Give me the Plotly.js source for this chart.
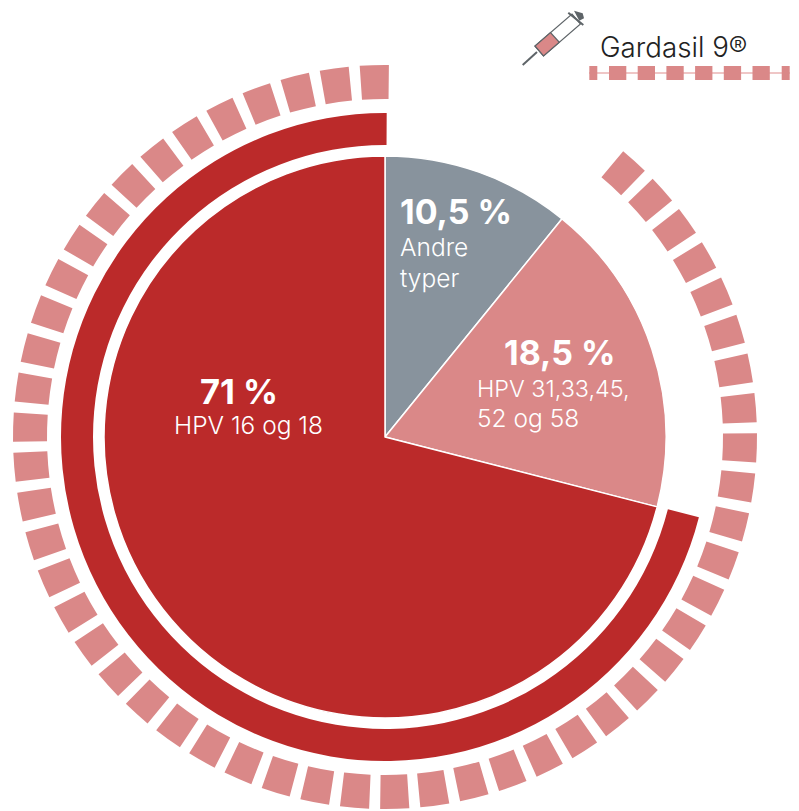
<!DOCTYPE html>
<html>
<head>
<meta charset="utf-8">
<script src="https://cdn.plot.ly/plotly-3.0.1.min.js"></script>
<style>html,body{margin:0;padding:0;background:#fff}#chart{width:799px;height:811px}</style>
</head>
<body>
<div id="chart"></div>
<script>
// Inner pie, shares as drawn, clockwise from 12 o'clock
var categories = ["Andre typer", "HPV 31,33,45, 52 og 58", "HPV 16 og 18"];
var shares = [10.85, 18.15, 71];
var shareColors = ["#88939d", "#da8888", "#bb2a2a"];

// Middle ring: blank part then the HPV 16/18 arc
var ringValues = [28.9, 71.1];

// Outer Gardasil 9 ring, degrees
var dashLead = 39.2;
var dashSizes = [4.5,4.5,4.5,4.5,4.5,4.5,4.5,4.5,4.5,4.5,4.5,4.5,4.5,4.5,4.5,4.5,4.5,4.5,4.5,4.5,4.5,4.5,4.5,4.5,4.5,4.5,
                 4.5,4.5,4.5,4.5,4.5,4.5,4.5,4.5,4.5,4.5,4.5,4.5,4.5,4.5,4.5,4.5,4.5,4.5,4.5,4.5,4.5,4.5,4.5,4.5,4.5,4.5];
var gapSizes  = [1.7,1.7,1.7,1.7,1.7,1.7,1.7,1.7,1.7,1.7,1.7,1.7,1.7,1.7,1.7,1.7,1.7,1.7,1.7,1.7,1.7,1.7,1.7,1.7,1.7,1.7,
                 1.7,1.7,1.7,1.7,1.7,1.7,1.7,1.7,1.7,1.7,1.7,1.7,1.7,1.7,1.7,1.7,1.7,1.7,1.7,1.7,1.7,1.7,1.7,1.7,1.7];

var W = 799, H = 811, CX = 385, CY = 437;
var CLEAR = "rgba(255,255,255,0)";
var PINK = "#da8888";
var DARK = "#5e6468";
var FONT = "Inter, Roboto, sans-serif";

function dom(R) {
  return {
    x: [(CX - R) / W, (CX + R) / W],
    y: [1 - (CY + R) / H, 1 - (CY - R) / H]
  };
}

var dashValues = [dashLead], dashColors = [CLEAR];
dashSizes.forEach(function (d, i) {
  dashValues.push(d); dashColors.push(PINK);
  if (i < gapSizes.length) { dashValues.push(gapSizes[i]); dashColors.push(CLEAR); }
});

var base = {type: "pie", sort: false, direction: "clockwise", textinfo: "none",
            hoverinfo: "skip", showlegend: false};

var traces = [
  Object.assign({}, base, {
    values: dashValues, hole: 338 / 372, rotation: 0.6, domain: dom(372),
    marker: {colors: dashColors, line: {width: 0}}
  }),
  Object.assign({}, base, {
    values: ringValues, hole: 292 / 324, rotation: 0.3, domain: dom(324),
    marker: {colors: [CLEAR, shareColors[2]], line: {width: 0}}
  }),
  Object.assign({}, base, {
    labels: categories, values: shares, rotation: 0, domain: dom(281),
    marker: {colors: shareColors, line: {color: "#ffffff", width: 1.5}}
  }),
  {type: "scatter", x: [null], y: [null], mode: "lines", hoverinfo: "skip", showlegend: false}
];

function note(text, x, y, size, weight, color) {
  return {xref: "x", yref: "y", x: x, y: y, text: text, showarrow: false, xanchor: "left",
          yanchor: "middle", align: "left", borderpad: 0, borderwidth: 0,
          font: {family: FONT, size: size, weight: weight, color: color || "#ffffff"}};
}

var annotations = [
  note("10,5 %", 400, 211, 34, 700),
  note("Andre", 400, 247, 24.5, 300),
  note("typer", 400, 278, 24.5, 300),
  note("18,5 %", 504, 352, 34, 700),
  note("HPV 31,33,45,", 477, 388, 23.4, 300),
  note("52 og 58", 477, 417.5, 24.5, 300),
  note("71 %", 200, 391, 34.5, 700),
  note("HPV 16 og 18", 174, 425, 24.5, 300),
  note("Gardasil 9®", 600, 47, 27.7, 300, "#222222")
];

function ln(x0, y0, x1, y1, color, width, dash) {
  return {type: "line", xref: "x", yref: "y", x0: x0, y0: y0, x1: x1, y1: y1,
          line: {color: color, width: width, dash: dash || "solid"}};
}
function poly(path, fill, lineColor, width) {
  return {type: "path", xref: "x", yref: "y", path: path, fillcolor: fill,
          line: {color: lineColor || fill, width: width || 0}};
}

var shapes = [
  // legend key
  ln(589, 73, 790, 73, "#efc6c6", 2),
  ln(589.3, 73, 597.3, 73, PINK, 14),
  ln(609, 73, 771, 73, PINK, 14, "17.3px,11.4px"),
  ln(781.7, 73, 789.7, 73, PINK, 14),
  // syringe icon
  ln(522.7, 65, 537, 52, DARK, 2),
  poly("M535,46 L543.5,56 L580.5,24 L572,14 Z", "#ffffff", DARK, 1.2),
  poly("M535,46 L543.5,56 L559.3,42.3 L550.5,32.6 Z", PINK, DARK, 1.2),
  ln(568.3, 12.7, 583.3, 25, DARK, 2),
  poly("M574,10.7 L582.7,13.3 L584,18.3 L579.3,20.7 Z", DARK)
];

var layout = {
  width: W, height: H,
  margin: {l: 0, r: 0, t: 0, b: 0},
  paper_bgcolor: "#ffffff", plot_bgcolor: "rgba(0,0,0,0)",
  showlegend: false,
  xaxis: {range: [0, W], visible: false, fixedrange: true},
  yaxis: {range: [H, 0], visible: false, fixedrange: true},
  annotations: annotations,
  shapes: shapes
};

Plotly.newPlot("chart", traces, layout, {displayModeBar: false, staticPlot: true});
</script>
</body>
</html>
